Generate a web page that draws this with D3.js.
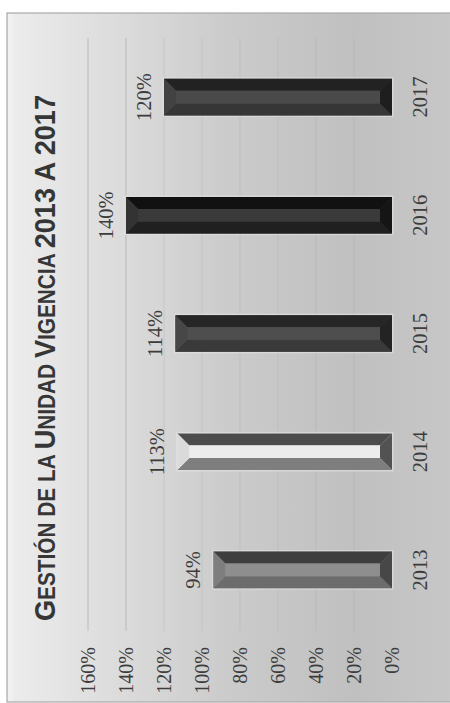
<!DOCTYPE html>
<html>
<head>
<meta charset="utf-8">
<script src="https://cdn.jsdelivr.net/npm/d3@7"></script>
<style>
  html, body { margin: 0; padding: 0; background: #ffffff; }
  svg { display: block; }
</style>
</head>
<body>
<svg id="chart" width="450" height="703"></svg>
<script>
// ---- data ----
const categories = ["2013", "2014", "2015", "2016", "2017"];
const values = [0.94, 1.13, 1.14, 1.40, 1.20];
const tickValues = [0, 0.2, 0.4, 0.6, 0.8, 1.0, 1.2, 1.4, 1.6];
const titleParts = [
  ["G", true], ["ESTIÓN DE LA ", false], ["U", true], ["NIDAD ", false],
  ["V", true], ["IGENCIA ", false], ["2013 A 2017", true]
];

// bevel palettes per bar: [face, leftSide, rightSide, topEnd, bottomEnd]
const palettes = [
  ["#8e8e8e", "#6c6c6c", "#3e3e3e", "#7e7e7e", "#474747"],
  ["#ededed", "#7e7e7e", "#4c4c4c", "#dadada", "#525252"],
  ["#4e4e4e", "#3a3a3a", "#262626", "#474747", "#232323"],
  ["#3a3a3a", "#202020", "#111111", "#333333", "#151515"],
  ["#4a4a4a", "#363636", "#222222", "#424242", "#1e1e1e"]
];

const W = 703, H = 450;
const svg = d3.select("#chart");
const defs = svg.append("defs");

// rotated group: original chart drawn in W x H, turned 90° counter-clockwise
const g = svg.append("g").attr("transform", `translate(0,${W}) rotate(-90)`);

const grad = defs.append("linearGradient")
  .attr("id", "bg").attr("gradientUnits", "userSpaceOnUse")
  .attr("x1", 0).attr("y1", 7).attr("x2", 0).attr("y2", 452);
[[0, "#ededed"], [0.2, "#dfdfdf"], [0.5, "#cbcbcb"], [0.78, "#c0c0c0"], [1, "#c7c7c7"]]
  .forEach(([o, c]) => grad.append("stop").attr("offset", o).attr("stop-color", c));

// frame
g.append("rect").attr("x", 1).attr("y", 7).attr("width", 689).attr("height", 450)
  .attr("fill", "url(#bg)").attr("stroke", "#a9a9a9").attr("stroke-width", 1.2);
g.append("rect").attr("x", 2).attr("y", 8).attr("width", 687).attr("height", 5)
  .attr("fill", "#f2f2f2").attr("opacity", 0.7);

// scales
const x = d3.scaleBand().domain(categories).range([74, 665])
  .paddingInner(0.69).paddingOuter(0.345);
const y = d3.scaleLinear().domain([0, 1.6]).range([392, 88]);

// gridlines (faint; the upper ones show most)
g.append("g").selectAll("line").data(tickValues.filter(d => d > 0)).join("line")
  .attr("x1", 72).attr("x2", 665)
  .attr("y1", d => y(d)).attr("y2", d => y(d))
  .attr("stroke", "#a4a4a4")
  .attr("stroke-opacity", d => d >= 1.4 ? 0.6 : 0.25).attr("stroke-width", 1);

// value axis
const yAxis = g.append("g").attr("transform", "translate(59,0)")
  .call(d3.axisLeft(y).tickValues(tickValues).tickFormat(d3.format(".0%"))
    .tickSize(0).tickPadding(3));
yAxis.select(".domain").remove();
yAxis.selectAll("text").attr("font-family", "Liberation Serif, serif")
  .attr("font-size", 20).attr("fill", "#3c3c3c");

// category axis
const xAxis = g.append("g").attr("transform", `translate(0,${y(0)})`)
  .call(d3.axisBottom(x).tickSize(0).tickPadding(20));
xAxis.select(".domain").remove();
xAxis.selectAll("text").attr("font-family", "Liberation Serif, serif")
  .attr("font-size", 20.5).attr("fill", "#3c3c3c");

// bevelled bars
const bev = 12, bevEnd = 12;
const bars = g.append("g").selectAll("g").data(categories.map((c, i) => ({ c, v: values[i], p: palettes[i] })))
  .join("g");
bars.append("rect")
  .attr("x", d => x(d.c) - 1.5).attr("y", d => y(d.v) - 1.5)
  .attr("width", x.bandwidth() + 3).attr("height", d => y(0) - y(d.v) + 3)
  .attr("fill", "#e4e4e4").attr("opacity", 0.6);
bars.each(function (d) {
  const s = d3.select(this);
  const x0 = x(d.c), x1 = x0 + x.bandwidth();
  const y0 = y(d.v), y1 = y(0);
  const ix0 = x0 + bev, ix1 = x1 - bev, iy0 = y0 + bevEnd, iy1 = y1 - bevEnd;
  const poly = pts => pts.map(p => p.join(",")).join(" ");
  s.append("rect").attr("x", x0).attr("y", y0).attr("width", x1 - x0).attr("height", y1 - y0).attr("fill", d.p[0]);
  s.append("polygon").attr("points", poly([[x0, y0], [ix0, iy0], [ix0, iy1], [x0, y1]])).attr("fill", d.p[1]);
  s.append("polygon").attr("points", poly([[x1, y0], [ix1, iy0], [ix1, iy1], [x1, y1]])).attr("fill", d.p[2]);
  s.append("polygon").attr("points", poly([[x0, y0], [x1, y0], [ix1, iy0], [ix0, iy0]])).attr("fill", d.p[3]);
  s.append("polygon").attr("points", poly([[x0, y1], [x1, y1], [ix1, iy1], [ix0, iy1]])).attr("fill", d.p[4]);
  s.append("rect").attr("x", ix0).attr("y", iy0).attr("width", ix1 - ix0).attr("height", iy1 - iy0).attr("fill", d.p[0]);
});

// data labels
g.append("g").selectAll("text").data(categories.map((c, i) => ({ c, v: values[i] }))).join("text")
  .attr("x", d => x(d.c) + x.bandwidth() / 2)
  .attr("y", d => y(d.v) - 13)
  .attr("text-anchor", "middle")
  .attr("font-family", "Liberation Serif, serif").attr("font-size", 20.5).attr("fill", "#3c3c3c")
  .text(d => d3.format(".0%")(d.v));

// title
const title = g.append("text")
  .attr("x", 345).attr("y", 55).attr("text-anchor", "middle")
  .attr("font-family", "Liberation Sans, Arial, sans-serif").attr("font-weight", "bold")
  .attr("fill", "#363636")
  .attr("textLength", 526).attr("lengthAdjust", "spacingAndGlyphs");
title.selectAll("tspan").data(titleParts).join("tspan")
  .attr("font-size", d => d[1] ? 30 : 23)
  .text(d => d[0]);
</script>
</body>
</html>
